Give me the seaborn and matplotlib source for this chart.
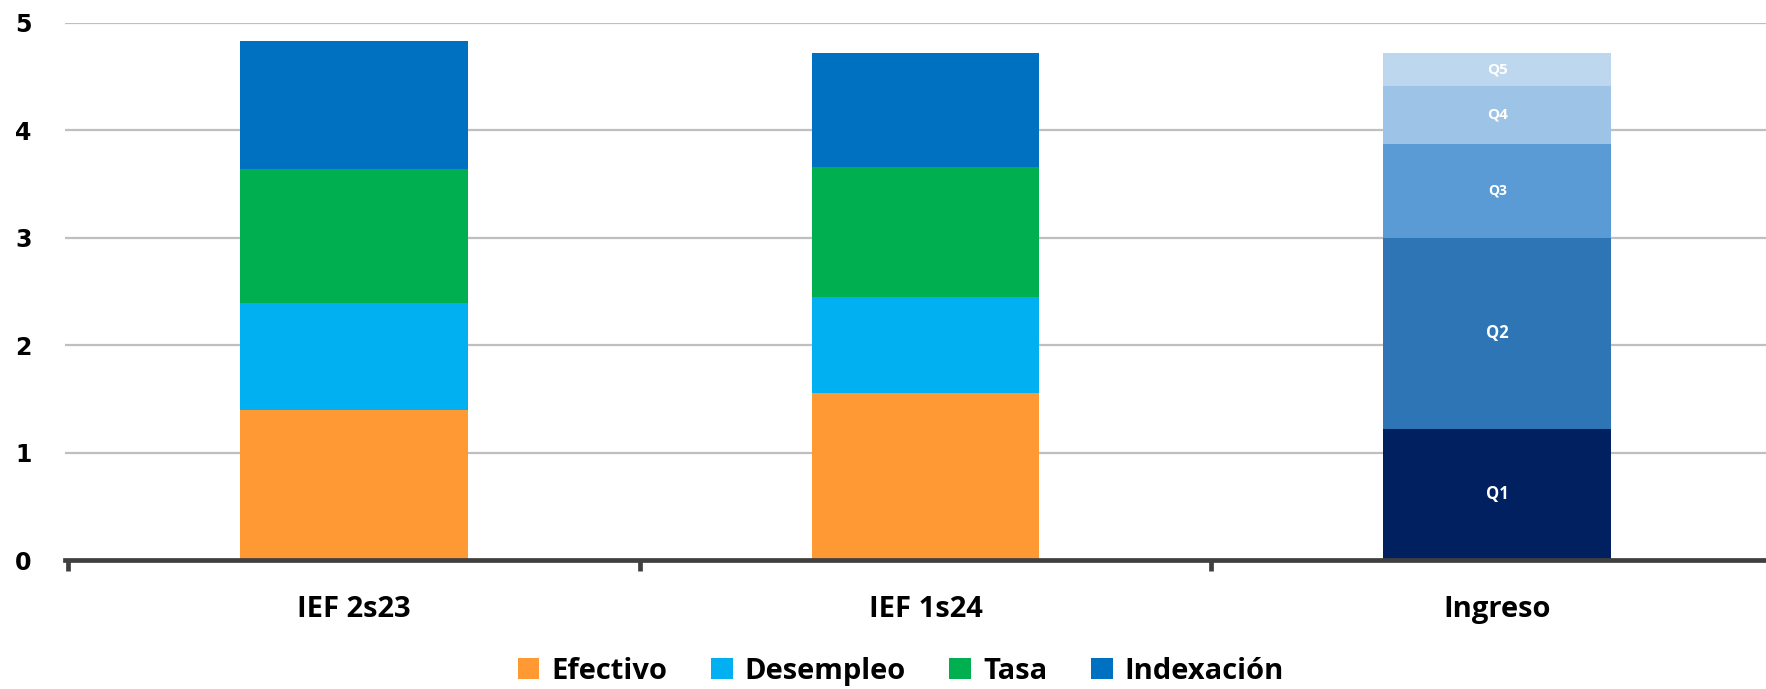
import numpy as np
import pandas as pd
import matplotlib
matplotlib.use("Agg")
import matplotlib.pyplot as plt
import seaborn as sns
from matplotlib.patches import Patch

# Datos
categorias = ["IEF 2s23", "IEF 1s24", "Ingreso"]
efectivo = [1.40, 1.55, 0.0]
desempleo = [0.99, 0.90, 0.0]
tasa = [1.25, 1.21, 0.0]
indexacion = [1.19, 1.06, 0.0]
q1 = [0.0, 0.0, 1.22]
q2 = [0.0, 0.0, 1.78]
q3 = [0.0, 0.0, 0.87]
q4 = [0.0, 0.0, 0.54]
q5 = [0.0, 0.0, 0.31]

series = ["Efectivo", "Desempleo", "Tasa", "Indexación", "Q1", "Q2", "Q3", "Q4", "Q5"]
valores = [efectivo, desempleo, tasa, indexacion, q1, q2, q3, q4, q5]
colores = ["#FF9933", "#00B0F0", "#00B050", "#0070C0",
           "#002060", "#2E75B6", "#5B9BD5", "#9DC3E6", "#BDD7EE"]

rows = []
for s, v in zip(series, valores):
    for c, val in zip(categorias, v):
        rows.append({"cat": c, "serie": s, "valor": val})
df = pd.DataFrame(rows)
df["cum"] = df.groupby("cat")["valor"].cumsum()

sns.set_style("white")
plt.rcParams["font.family"] = ["DejaVu Sans"]

fig = plt.figure(figsize=(17.66, 6.89), dpi=100)
ax = fig.add_axes([0.0368, 0.1872, 0.9632, 0.7801])

# barras apiladas: de arriba hacia abajo
for s, col in reversed(list(zip(series, colores))):
    sub = df[df["serie"] == s]
    sns.barplot(data=sub, x="cat", y="cum", order=categorias, color=col,
                width=0.398, saturation=1, ax=ax, zorder=3, linewidth=0)

# etiquetas de quintiles
sizes = {"Q1": 12, "Q2": 12, "Q3": 10, "Q4": 11, "Q5": 11}
for s in ["Q1", "Q2", "Q3", "Q4", "Q5"]:
    sub = df[(df["serie"] == s) & (df["cat"] == "Ingreso")].iloc[0]
    ax.text(2, sub["cum"] - sub["valor"] / 2, s, color="white", fontsize=sizes[s],
            fontweight="bold", ha="center", va="center", zorder=5,
            family="Open Sans")

ax.set_ylim(0, 5)
ax.set_xlim(-0.505, 2.47)
ax.set_yticks([0, 1, 2, 3, 4, 5])
ax.yaxis.grid(True, color="#BFBFBF", linewidth=1.6)
ax.set_axisbelow(True)
ax.set_xlabel("")
ax.set_ylabel("")

for sp in ["top", "right", "left"]:
    ax.spines[sp].set_visible(False)
ax.spines["bottom"].set_color("#404040")
ax.spines["bottom"].set_linewidth(3.4)
ax.spines["bottom"].set_zorder(6)

ax.tick_params(axis="y", length=0, pad=24, labelsize=17, labelcolor="black")
for t in ax.get_yticklabels():
    t.set_fontweight("bold")
ax.tick_params(axis="x", which="major", length=0, pad=25, labelcolor="black")
ax.set_xticks([-0.5, 0.5, 1.5], minor=True)
ax.tick_params(axis="x", which="minor", bottom=True, length=8, width=3.4,
               color="#404040", direction="out")
for t in ax.get_xticklabels():
    t.set_fontweight("bold")
    t.set_fontsize(21)
    t.set_family("Open Sans")

handles = [Patch(facecolor=c, edgecolor="none") for c in colores[:4]]
leg = fig.legend(handles, series[:4], loc="center", ncol=4,
                 bbox_to_anchor=(0.51, 0.026), frameon=False,
                 handlelength=0.75, handleheight=0.75, handletextpad=0.4,
                 columnspacing=1.5,
                 prop={"family": "Open Sans", "weight": "bold", "size": 21})
for t in leg.get_texts():
    t.set_color("black")

fig.savefig("out.png", dpi=100)
